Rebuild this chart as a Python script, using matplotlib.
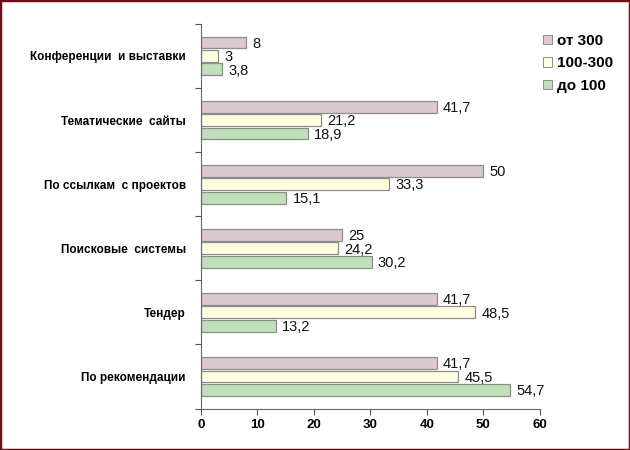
import matplotlib.pyplot as plt
from matplotlib.patches import Rectangle
import numpy as np

plt.rcParams["font.family"] = ["Liberation Sans", "DejaVu Sans"]

categories = ["Конференции  и выставки", "Тематические  сайты", "По ссылкам  с проектов",
              "Поисковые  системы", "Тендер", "По рекомендации"]
series_names = ["от 300", "100-300", "до 100"]
over_300 = [8, 41.7, 50, 25, 41.7, 41.7]
mid_100_300 = [3, 21.2, 33.3, 24.2, 48.5, 45.5]
under_100 = [3.8, 18.9, 15.1, 30.2, 13.2, 54.7]
colors = ["#DBC9D0", "#FFFFE2", "#BFE0B9"]


def fmt(v):
    return ("%g" % v).replace(".", ",")


def main():
    fig = plt.figure(figsize=(6.3, 4.5), dpi=100)
    fig.patch.set_facecolor("white")
    ax = fig.add_axes([0.319, 0.092, 0.538, 0.855])

    n = len(categories)
    y = np.arange(n)[::-1]
    h = 0.185
    step = 0.21
    data = [over_300, mid_100_300, under_100]
    for k, vals in enumerate(data):
        ax.barh(y + (1 - k) * step, vals, height=h, color=colors[k],
                edgecolor="#8C8C8C", linewidth=0.9, label=series_names[k])
        for yy, v in zip(y, vals):
            ax.text(v + 1.1, yy + (1 - k) * step - 0.02, fmt(v), va="center", ha="left",
                    fontsize=10.5, color="#111111")

    ax.set_xlim(0, 60)
    ax.set_ylim(-0.5, n - 0.5)
    ax.set_xticks(range(0, 61, 10))
    ax.set_yticks(y)
    ax.set_yticklabels(categories, fontsize=8.5, fontweight="bold")
    ax.set_yticks(np.arange(-0.5, n, 1.0), minor=True)
    ax.tick_params(axis="y", which="major", length=0, pad=11)
    ax.tick_params(axis="y", which="minor", length=4, width=0.8, color="#555555")
    ax.tick_params(axis="x", length=4, width=0.8, color="#555555", labelsize=9.5)
    for lab in ax.get_xticklabels():
        lab.set_fontweight("bold")
    for s in ["top", "right"]:
        ax.spines[s].set_visible(False)
    for s in ["left", "bottom"]:
        ax.spines[s].set_color("#666666")
        ax.spines[s].set_linewidth(0.8)

    leg = fig.legend(loc="upper left", bbox_to_anchor=(0.84, 0.955), frameon=False,
                     prop={"weight": "bold", "size": 11}, handlelength=0.6,
                     handleheight=0.6, handletextpad=0.3, labelspacing=0.55)
    for p in leg.get_patches():
        p.set_linewidth(0.7)

    fig.patches.append(Rectangle((0, 0), 1, 1, transform=fig.transFigure, fill=False,
                                 edgecolor="#6B0F1A", linewidth=2.5))
    fig.savefig("out.png", dpi=100)


main()
